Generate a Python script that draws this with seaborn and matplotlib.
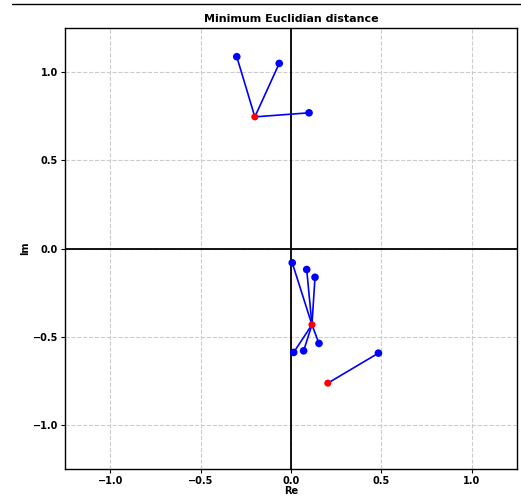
import matplotlib
matplotlib.use("Agg")
import matplotlib.pyplot as plt
from matplotlib.lines import Line2D
import numpy as np
import pandas as pd
import seaborn as sns

# received symbols (blue) and decision points (red)
rx_re = [-0.30, -0.065, 0.10, 0.007, 0.087, 0.133, 0.155, 0.015, 0.070, 0.484]
rx_im = [1.087, 1.049, 0.769, -0.081, -0.119, -0.163, -0.538, -0.589, -0.580, -0.593]
ref_re = [-0.20, 0.116, 0.204]
ref_im = [0.746, -0.432, -0.763]

sns.set_style("white")
plt.rcParams["font.family"] = ["DejaVu Sans"]
plt.rcParams["text.color"] = "black"
plt.rcParams["axes.labelcolor"] = "black"
plt.rcParams["xtick.color"] = "black"
plt.rcParams["ytick.color"] = "black"

fig = plt.figure(figsize=(5.21, 4.99), dpi=100)
ax = fig.add_axes([0.125, 0.060, 0.867, 0.884])

rx = pd.DataFrame({"Re": rx_re, "Im": rx_im})
ref = pd.DataFrame({"Re": ref_re, "Im": ref_im})

# connect each received point to its nearest reference point
for re, im in zip(rx_re, rx_im):
    d = np.hypot(np.array(ref_re) - re, np.array(ref_im) - im)
    k = int(np.argmin(d))
    ax.plot([re, ref_re[k]], [im, ref_im[k]], color="blue", lw=1.2, zorder=2)

sns.scatterplot(data=rx, x="Re", y="Im", color="blue", s=30, edgecolor="none", ax=ax, zorder=3)
sns.scatterplot(data=ref, x="Re", y="Im", color="red", s=26, edgecolor="none", ax=ax, zorder=4)

ax.axhline(0, color="black", lw=1.3, zorder=1)
ax.axvline(0, color="black", lw=1.3, zorder=1)
ax.grid(True, ls="--", color="#cccccc", lw=0.8)
ax.set_xlim(-1.25, 1.25)
ax.set_ylim(-1.25, 1.25)
ax.set_xticks([-1.0, -0.5, 0.0, 0.5, 1.0])
ax.set_yticks([-1.0, -0.5, 0.0, 0.5, 1.0])
ax.tick_params(labelsize=7, length=3, width=0.8, pad=2, left=True, bottom=True)
for lab in ax.get_xticklabels() + ax.get_yticklabels():
    lab.set_fontweight("bold")
for sp in ax.spines.values():
    sp.set_color("black")
    sp.set_linewidth(1.0)

ax.set_title("Minimum Euclidian distance", fontsize=8, fontweight="bold", pad=4)
ax.set_xlabel("Re", fontsize=7, fontweight="bold", labelpad=0)
ax.set_ylabel("Im", fontsize=7, fontweight="bold", labelpad=2)

fig.add_artist(Line2D([0.023, 1.0], [0.992, 0.992], color="black", lw=1.0, transform=fig.transFigure))

fig.savefig("out.png", dpi=100)
